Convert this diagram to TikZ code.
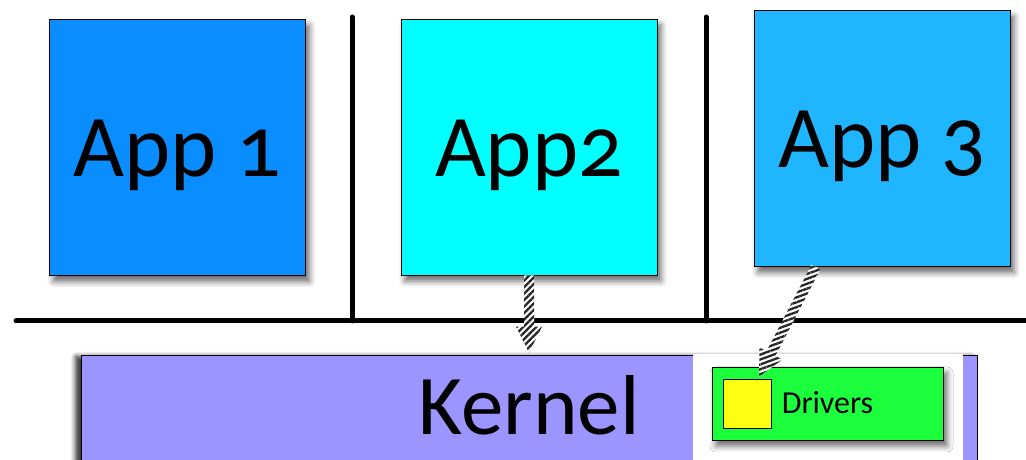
\documentclass[tikz,border=0pt]{standalone}
\usepackage{fontspec}
\setmainfont{Carlito}[Numbers=OldStyle]
\usetikzlibrary{calc,patterns.meta,shadows.blur}

\definecolor{appone}{HTML}{0A8EFF}
\definecolor{apptwo}{HTML}{00FFFF}
\definecolor{appthree}{HTML}{1FB5FF}
\definecolor{kernelfill}{HTML}{9C94FF}
\definecolor{driverfill}{HTML}{1CFF3C}
\definecolor{slotfill}{HTML}{FFFF14}

% striped block arrow: start, tip, stripe angle
\newcommand\stripedarrow[3]{%
  \coordinate (hb) at ($(#2)!26pt!(#1)$);
  \path[fill=white, postaction={pattern={Lines[angle=#3, distance=4.6pt, line width=2.3pt]}, pattern color=black!85}]
    ($(#1)!5pt!90:(#2)$) -- ($(hb)!5pt!-90:(#1)$) -- ($(hb)!13pt!-90:(#1)$) -- (#2)
    -- ($(hb)!13pt!90:(#1)$) -- ($(hb)!5pt!90:(#1)$) -- ($(#1)!5pt!-90:(#2)$) -- cycle;
}

\begin{document}
\begin{tikzpicture}[x=1pt, y=1pt,
  box/.style={draw=black, line width=0.8pt, inner sep=0pt,
    blur shadow={shadow xshift=4pt, shadow yshift=-6pt, shadow blur radius=6pt, shadow opacity=60}},
  appbox/.style={box, minimum width=256pt, minimum height=256pt,
    text height=59pt, text depth=0pt, font=\fontsize{88}{90}\selectfont},
  divider/.style={line width=5pt, line cap=round}]
\useasboundingbox (0,0) rectangle (1026,460);

% kernel strip with the driver area
\node[box, fill=kernelfill, minimum width=896pt, minimum height=110pt,
  text height=50pt, text depth=0pt, font=\fontsize{85}{88}\selectfont,
  blur shadow={shadow xshift=-5pt, shadow yshift=-2pt, shadow blur radius=5pt, shadow opacity=55}]
  (kern) at (529,50) {Kernel};
\fill[white] (693,106) rectangle (963,-5);
\node[box, fill=driverfill, minimum width=231pt, minimum height=73pt,
  text height=21pt, text depth=0pt, font=\fontsize{32}{34}\selectfont]
  (drv) at (827.5,56.5) {Drivers};
\node[draw=black, line width=0.8pt, fill=slotfill, minimum width=48pt, minimum height=49pt, inner sep=0pt]
  (slot) at (747,56.5) {};

% user/kernel boundary and separators between applications
\coordinate (hl) at (16,139);
\coordinate (hr) at (1040,139);
\coordinate (v1t) at (352,443);
\coordinate (v1b) at (352,139);
\coordinate (v2t) at (706,443);
\coordinate (v2b) at (706,139);
\draw[divider] (hl) -- (hr);
\draw[divider] (v1t) -- (v1b);
\draw[divider] (v2t) -- (v2b);

% applications
\node[appbox, fill=appone] (app1) at (177.5,312.5) {App 1};
\node[appbox, fill=apptwo] (app2) at (529,313) {App2};
\node[appbox, fill=appthree] (app3) at (882,321.5) {App 3};

% system calls into the kernel
\coordinate (a1s) at (app2.south);
\coordinate (a1e) at ($(kern.north -| app2.south)+(0,2)$);
\stripedarrow{a1s}{a1e}{45}
\coordinate (a2s) at ($(app3.south)+(-66,0)$);
\coordinate (a2e) at ($(slot.north)+(12,2)$);
\stripedarrow{a2s}{a2e}{20}
\end{tikzpicture}
\end{document}
